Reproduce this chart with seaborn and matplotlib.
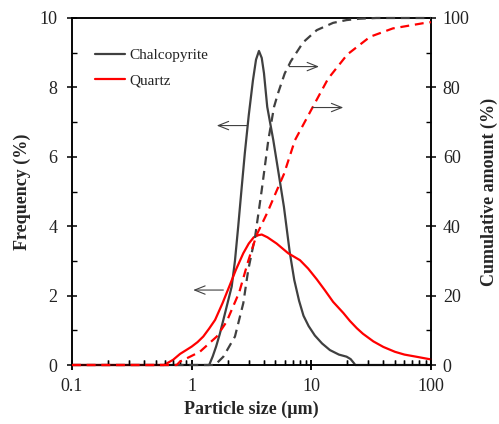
import numpy as np
import pandas as pd
import matplotlib
matplotlib.use("Agg")
import matplotlib.pyplot as plt
from matplotlib.ticker import FixedLocator, NullFormatter
import seaborn as sns

# Particle size distributions (size in µm, values in %)
chalco_size = [0.1, 1.40, 1.50, 1.60, 1.72, 1.84, 2.00, 2.16, 2.30, 2.45, 2.60,
               2.78, 3.00, 3.25, 3.45, 3.65, 3.85, 4.02, 4.28, 4.81, 5.33, 5.90,
               6.60, 7.20, 7.90, 8.60, 9.50, 10.7, 12.3, 14.3, 17.0, 19.7, 21.3,
               22.5, 23.3, 100]
chalco_freq = [0.0, 0.0, 0.25, 0.53, 0.90, 1.30, 1.80, 2.26, 3.00, 4.00, 5.00,
               6.10, 7.20, 8.20, 8.80, 9.05, 8.85, 8.41, 7.44, 6.48, 5.52, 4.56,
               3.25, 2.45, 1.85, 1.42, 1.12, 0.85, 0.62, 0.43, 0.30, 0.24, 0.17,
               0.07, 0.0, 0.0]

quartz_size = [0.1, 0.587, 0.70, 0.80, 0.90, 1.00, 1.12, 1.25, 1.40, 1.57, 1.81,
               2.06, 2.34, 2.70, 3.00, 3.30, 3.60, 3.85, 4.30, 5.13, 6.41, 8.04,
               9.40, 11.1, 13.0, 15.2, 18.5, 21.0, 24.0, 27.0, 33.0, 40.0, 50.0,
               60.0, 75.0, 100]
quartz_freq = [0.0, 0.0, 0.15, 0.32, 0.43, 0.53, 0.66, 0.82, 1.05, 1.30, 1.78,
               2.26, 2.74, 3.22, 3.50, 3.68, 3.74, 3.76, 3.68, 3.50, 3.22, 3.02,
               2.78, 2.47, 2.15, 1.82, 1.50, 1.27, 1.06, 0.90, 0.68, 0.52, 0.38,
               0.30, 0.24, 0.16]

chalco_cum_size = [0.1, 1.55, 1.62, 1.84, 2.30, 2.70, 2.97, 3.39, 3.85, 4.37, 4.88,
                   5.29, 5.99, 6.73, 8.55, 11.1, 15.2, 19.7, 25.4, 35.0, 100]
chalco_cum = [0.0, 0.0, 0.5, 2.4, 8.2, 17.8, 27.4, 37.0, 50.4, 64.8, 74.4,
              78.5, 84.0, 87.5, 93.0, 96.5, 98.6, 99.4, 99.8, 100.0, 100.0]

quartz_cum_size = [0.1, 0.75, 0.80, 0.97, 1.17, 1.62, 1.96, 2.50, 2.97, 3.49, 4.30,
                   5.10, 5.90, 7.30, 10.3, 13.8, 20.0, 31.0, 48.0, 86.0, 100]
quartz_cum = [0.0, 0.0, 1.0, 2.4, 3.8, 8.2, 12.5, 21.0, 30.0, 37.5, 44.0,
              50.0, 55.0, 64.8, 74.4, 82.5, 89.5, 94.6, 97.0, 98.5, 98.8]

freq_ticks = [0, 2, 4, 6, 8, 10]
cum_ticks = [0, 20, 40, 60, 80, 100]
size_ticks = [0.1, 1, 10, 100]
size_labels = ["0.1", "1", "10", "100"]
size_minor = [m * d for d in (0.1, 1, 10) for m in range(2, 10)]

GREY = "#404040"
RED = "#ff0000"

sns.set_style("ticks")
plt.rcParams["font.family"] = ["Liberation Serif", "DejaVu Serif"]
plt.rcParams.update({
    "axes.axisbelow": False,
    "xtick.minor.size": 3.5, "xtick.minor.width": 1.0,
    "ytick.minor.size": 3.5, "ytick.minor.width": 1.0,
})

fig = plt.figure(figsize=(4.99, 4.24), dpi=100)
ax = fig.add_axes([72 / 499, 1 - 365 / 424, (431 - 72) / 499, (365 - 18) / 424])
ax2 = ax.twinx()

freq_df = pd.concat([
    pd.DataFrame({"size": chalco_size, "value": chalco_freq, "mineral": "Chalcopyrite"}),
    pd.DataFrame({"size": quartz_size, "value": quartz_freq, "mineral": "Quartz"}),
])
cum_df = pd.concat([
    pd.DataFrame({"size": chalco_cum_size, "value": chalco_cum, "mineral": "Chalcopyrite"}),
    pd.DataFrame({"size": quartz_cum_size, "value": quartz_cum, "mineral": "Quartz"}),
])
palette = {"Chalcopyrite": GREY, "Quartz": RED}

sns.lineplot(data=freq_df, x="size", y="value", hue="mineral", palette=palette,
             estimator=None, sort=False, linewidth=1.6, ax=ax, zorder=3, clip_on=False)
sns.lineplot(data=cum_df, x="size", y="value", hue="mineral", palette=palette,
             estimator=None, sort=False, linewidth=1.6, ax=ax2, zorder=3,
             legend=False, clip_on=False)
for ln in ax.get_lines() + ax2.get_lines():
    ln.set_solid_joinstyle("round")
    ln.set_dash_joinstyle("round")
for ln in ax2.get_lines():
    ln.set_dashes((4, 2.6))

ax.set_xscale("log")
ax.set_xlim(0.1, 100)
ax.set_ylim(0, 10)
ax2.set_ylim(0, 100)
ax.xaxis.set_major_locator(FixedLocator(size_ticks))
ax.set_xticklabels(size_labels)
ax.xaxis.set_minor_locator(FixedLocator(size_minor))
ax.xaxis.set_minor_formatter(NullFormatter())
ax.set_yticks(freq_ticks)
ax.set_yticks(np.arange(1, 10, 2), minor=True)
ax2.set_yticks(cum_ticks)
ax2.set_yticks(np.arange(10, 100, 20), minor=True)

lab_fs = 13
ax.set_xlabel("Particle size (µm)", fontsize=lab_fs, fontweight="bold", labelpad=4)
ax.set_ylabel("Frequency (%)", fontsize=lab_fs, fontweight="bold", labelpad=6)
ax2.set_ylabel("Cumulative amount (%)", fontsize=lab_fs, fontweight="bold", labelpad=8)
ax2.set_xlabel("")

for a in (ax, ax2):
    a.set_axisbelow(False)
    for s in a.spines.values():
        s.set_linewidth(1.1)
        s.set_color("black")
    a.tick_params(which="major", direction="inout", length=7, width=1.1,
                  labelsize=13, color="black", labelcolor="#222222")
    a.tick_params(which="minor", direction="in", length=3.5, width=1.0, color="black")
ax.tick_params(axis="y", which="major", pad=7)
ax.tick_params(axis="x", which="major", pad=6)
ax2.tick_params(axis="y", which="major", pad=5)

# Second copy of the size-axis ticks on the twin so they sit above the curves
ax2.xaxis.set_visible(True)
ax2.tick_params(axis="x", which="both", bottom=True, top=False,
                labelbottom=False, labeltop=False)

# Arrows pointing each curve to its axis
arrow = dict(arrowstyle="->,head_length=0.75,head_width=0.3", color=GREY, lw=0.8,
             shrinkA=0, shrinkB=0)
ax.annotate("", xy=(1.62, 6.90), xytext=(2.89, 6.90), arrowprops=arrow)
ax.annotate("", xy=(1.03, 2.16), xytext=(1.84, 2.16), arrowprops=arrow)
ax2.annotate("", xy=(11.6, 86.0), xytext=(6.53, 86.0), arrowprops=arrow)
ax2.annotate("", xy=(18.5, 74.2), xytext=(10.2, 74.2), arrowprops=arrow)

leg = ax.legend(loc="upper left", bbox_to_anchor=(0.063, 0.912), frameon=False,
                fontsize=11, handlelength=2.0, handletextpad=0.25, borderpad=0,
                borderaxespad=0, labelspacing=0.75)
leg.set_title(None)
for t in leg.get_texts():
    t.set_color("#222222")

fig.savefig("out.png", dpi=100)
